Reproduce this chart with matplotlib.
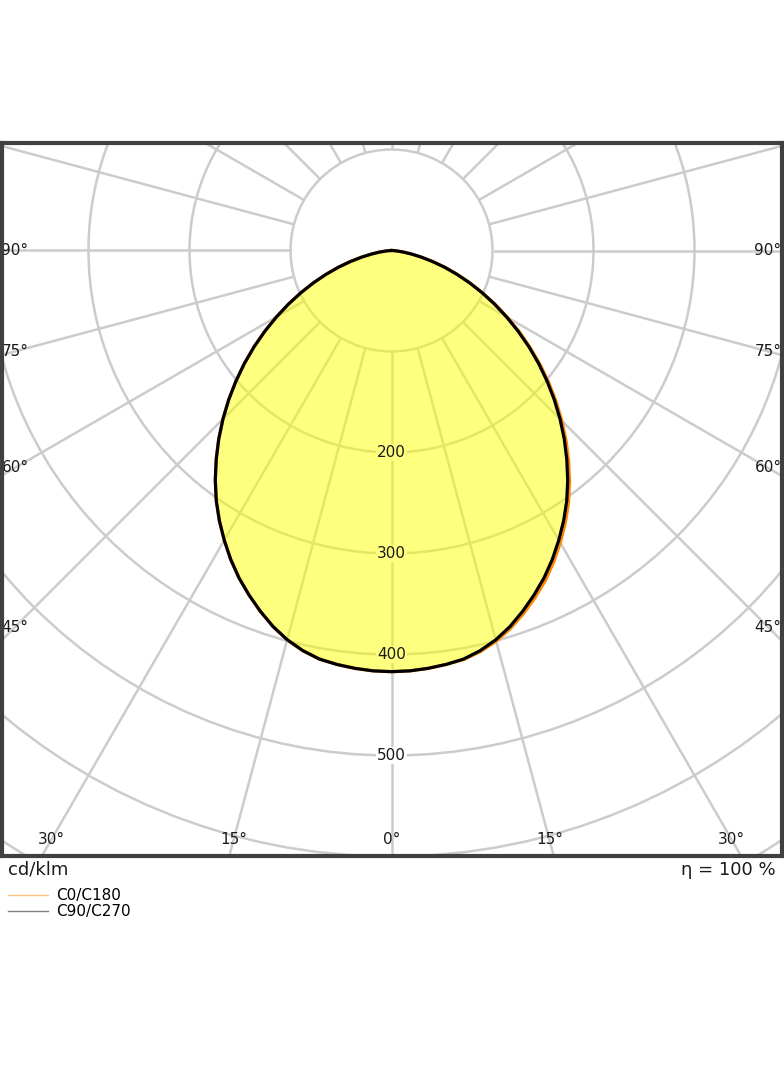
import numpy as np
import matplotlib
matplotlib.use("Agg")
import matplotlib.pyplot as plt
from matplotlib.patches import Circle
from matplotlib.lines import Line2D

# ---------------- data (cd/klm) ----------------
gamma = [0, 2.5, 5, 7.5, 10, 12.5, 15, 17.5, 20, 22.5, 25, 27.5, 30, 32.5, 35, 37.5,
         40, 42.5, 45, 47.5, 50, 52.5, 55, 57.5, 60, 62.5, 65, 67.5, 70, 72.5, 75,
         77.5, 80, 82.5, 85, 87.5, 90]
c0 = [417, 416.6, 415.3, 413.4, 411.3, 406.8, 400.5, 392.3, 382.5, 371.8, 360.5, 347.8,
      334.2, 320.2, 305.5, 289.6, 273, 256, 238.6, 221, 203.2, 185.5, 167.8, 150.2,
      132.9, 116.2, 100, 84.5, 69.6, 55.6, 42.2, 30.2, 20, 11.8, 5.6, 1.6, 0]
c180 = [417, 416.6, 415.3, 413.4, 410.8, 405.8, 399, 390.3, 380, 369, 357.5, 344.8,
        331.2, 317.2, 302.5, 286.6, 270, 253.2, 236, 218.6, 201, 183.5, 166, 148.6,
        131.5, 115, 99, 83.7, 69, 55.2, 42, 30.2, 20, 11.8, 5.6, 1.6, 0]
c90 = [417, 416.6, 415.3, 413.4, 410.8, 405.8, 399, 390.3, 380, 369, 357.5, 344.8,
       331.2, 317.2, 302.5, 286.6, 270, 253.2, 236, 218.6, 201, 183.5, 166, 148.6,
       131.5, 115, 99, 83.7, 69, 55.2, 42, 30.2, 20, 11.8, 5.6, 1.6, 0]
c270 = [417, 416.6, 415.3, 413.4, 410.8, 405.8, 399, 390.3, 380, 369, 357.5, 344.8,
        331.2, 317.2, 302.5, 286.6, 270, 253.2, 236, 218.6, 201, 183.5, 166, 148.6,
        131.5, 115, 99, 83.7, 69, 55.2, 42, 30.2, 20, 11.8, 5.6, 1.6, 0]

radial_ticks = [200, 300, 400, 500]
grid_radii = [100, 200, 300, 400, 500, 600, 700, 800]
grid_angles = list(range(0, 360, 15))
side_angle_labels = [90, 75, 60, 45]
bottom_angle_labels = [-30, -15, 0, 15, 30]
unit_label = "cd/klm"
eta_label = "η = 100 %"
legend_labels = ["C0/C180", "C90/C270"]

# ---------------- layout ----------------
W, H = 784, 1066
fig = plt.figure(figsize=(W / 100, H / 100), dpi=100)
px0, px1, py0, py1 = 2.0, 782.0, 143.0, 855.5
cx, cy, s = 391.5, 250.5, 1.01
ax = fig.add_axes([px0 / W, 1 - py1 / H, (px1 - px0) / W, (py1 - py0) / H])
ax.set_xlim((px0 - cx) / s, (px1 - cx) / s)
ax.set_ylim(-(py1 - cy) / s, (cy - py0) / s)
ax.set_xticks([])
ax.set_yticks([])
for sp in ax.spines.values():
    sp.set_linewidth(3)
    sp.set_color("#404040")
    sp.set_zorder(10)

grid_c = "#cccccc"
grid_lw = 1.8

for r in grid_radii:
    ax.add_patch(Circle((0, 0), r, fill=False, ec=grid_c, lw=grid_lw, zorder=1))
for a in grid_angles:
    t = np.radians(a)
    ax.plot([100 * np.sin(t), 1500 * np.sin(t)], [-100 * np.cos(t), -1500 * np.cos(t)],
            color=grid_c, lw=grid_lw, zorder=1, solid_capstyle="butt")


def curve(right, left):
    g = np.radians(np.array(gamma, dtype=float))
    rr = np.array(right, dtype=float)
    rl = np.array(left, dtype=float)
    xs = np.concatenate([-(rl * np.sin(g))[::-1], (rr * np.sin(g))[1:]])
    ys = np.concatenate([-(rl * np.cos(g))[::-1], -(rr * np.cos(g))[1:]])
    return xs, ys


xo, yo = curve(c0, c180)
xb, yb = curve(c90, c270)
xe, ye = curve(np.maximum(c0, c90), np.maximum(c180, c270))

ax.fill(xe, ye, color="#ffff00", alpha=0.5, lw=0, zorder=2)
ax.plot(xo, yo, color="#ff8800", lw=2.3, zorder=3, solid_joinstyle="round")
ax.plot(xb, yb, color="black", lw=2.3, zorder=4, solid_joinstyle="round")

txt_c = "#1a1a1a"
for r in radial_ticks:
    ax.text(0, -r, str(r), ha="center", va="center", fontsize=11, color="none", zorder=1.5,
            bbox=dict(boxstyle="square,pad=0.05", fc="white", ec="none"))
    ax.text(0, -r, str(r), ha="center", va="center", fontsize=11, color=txt_c, zorder=5)

X = (cx - 15) / s
for a in side_angle_labels:
    t = np.radians(a)
    y = -X * np.cos(t) / np.sin(t)
    for sgn in (-1, 1):
        ax.text(sgn * X, y, f"{a}°", ha="center", va="center", fontsize=11, color=txt_c,
                zorder=5, clip_on=False)
Y = (840 - cy) / s
for a in bottom_angle_labels:
    t = np.radians(a)
    ax.text(Y * np.tan(t), -Y, f"{abs(a)}°", ha="center", va="center", fontsize=11,
            color=txt_c, zorder=5)

fig.text(8 / W, 1 - 861 / H, unit_label, ha="left", va="top", fontsize=13, color=txt_c)
fig.text(776 / W, 1 - 861 / H, eta_label, ha="right", va="top", fontsize=13, color=txt_c)

handles = [Line2D([], [], color="#ff8800", alpha=0.5, lw=1),
           Line2D([], [], color="black", alpha=0.5, lw=1)]
fig.legend(handles, legend_labels, loc="upper left", bbox_to_anchor=(8 / W, 1 - 888 / H),
           frameon=False, fontsize=11, handlelength=2.6, handletextpad=0.55,
           labelspacing=0.08, borderpad=0, borderaxespad=0)

fig.savefig("out.png", dpi=100)
